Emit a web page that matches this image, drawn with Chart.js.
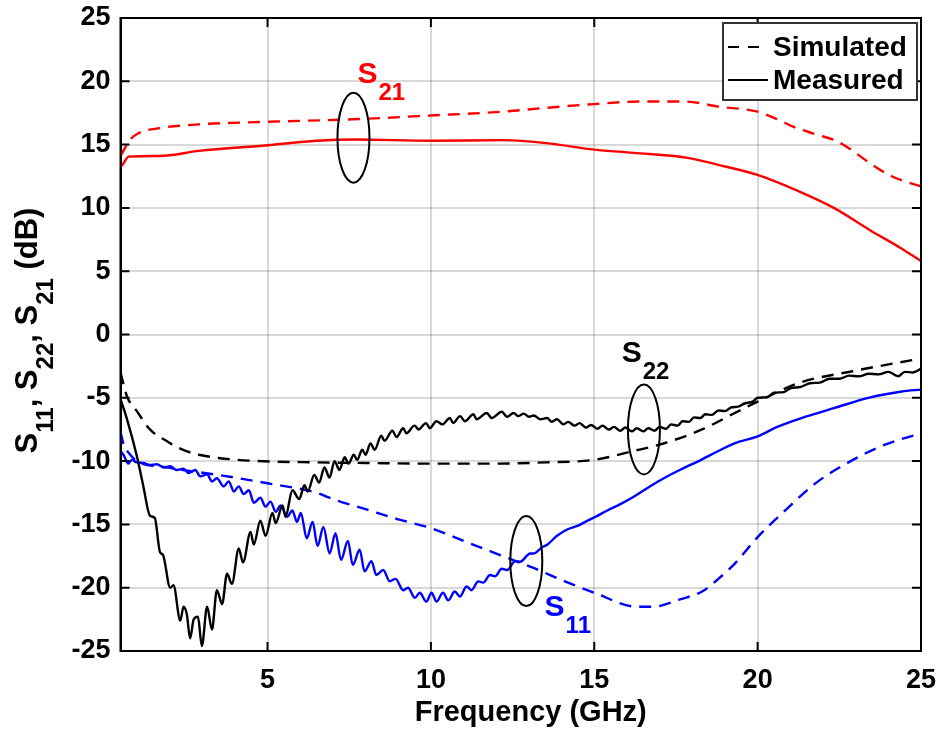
<!DOCTYPE html>
<html>
<head>
<meta charset="utf-8">
<title>S-parameters</title>
<script src="https://cdn.jsdelivr.net/npm/chart.js"></script>
<style>
    body { margin: 0; background-color: #ffffff; }
    canvas { display: block; }
</style>
</head>
<body>
<canvas id="sparChart" width="940" height="736"></canvas>
<script>
// axis ticks
const xTicks = [5, 10, 15, 20, 25];
const yTicks = [-25, -20, -15, -10, -5, 0, 5, 10, 15, 20, 25];

// S21 simulated / measured
const s21SimF  = [0.5, 0.8, 1.05, 1.7, 2.9, 5, 7.6, 10, 12.2, 13.5, 15, 16.4, 17.8, 18.8, 20, 20.6, 21.1, 21.8, 22.4, 22.8, 23.4, 24.1, 25];
const s21SimDb = [14.1, 15.4, 15.9, 16.3, 16.6, 16.8, 17.0, 17.3, 17.6, 17.9, 18.2, 18.4, 18.4, 18.0, 17.6, 17.0, 16.4, 15.8, 15.3, 14.7, 13.6, 12.5, 11.7];
const s21MeasF  = [0.5, 0.6, 0.75, 1.7, 2.9, 5, 6.5, 7.7, 10, 12.2, 13.6, 15, 16.2, 17.85, 18.8, 20, 21.35, 22.4, 23.4, 24.4, 25];
const s21MeasDb = [13.2, 13.55, 14.05, 14.1, 14.5, 14.95, 15.3, 15.4, 15.3, 15.35, 15.1, 14.6, 14.35, 13.95, 13.4, 12.6, 11.2, 9.9, 8.3, 6.8, 5.8];

// S22 simulated / measured
const s22SimF  = [0.5, 0.7, 1.0, 1.4, 1.9, 2.4, 2.9, 3.5, 4.5, 6.5, 8, 10, 12, 13.5, 15, 16.2, 17, 18.3, 19.3, 20, 21.3, 22.9, 25];
const s22SimDb = [-3.0, -4.9, -6.05, -7.5, -8.4, -9.1, -9.5, -9.75, -9.97, -10.1, -10.15, -10.2, -10.2, -10.1, -9.9, -9.2, -8.7, -7.5, -6.2, -5.3, -3.8, -2.9, -1.9];
const s22MeasF = [0.5, 0.7, 1.0, 1.2, 1.4, 1.55, 1.71, 1.8, 2.02, 2.12, 2.33, 2.43, 2.53, 2.63, 2.74, 2.87, 2.99, 3.15, 3.3, 3.45, 3.61, 3.76, 3.91,
    4.12, 4.25, 4.48, 4.58, 4.78, 4.94, 5.15, 5.25, 5.46, 5.55, 5.76, 5.97, 6.13, 6.23, 6.43, 6.58, 6.74, 6.9, 7.05, 7.2, 7.36, 7.48, 7.64, 7.74,
    7.9, 8.0, 8.15, 8.28, 8.48, 8.58, 8.82, 8.95, 9.15, 9.25, 9.5, 9.62, 9.85, 9.97, 10.17, 10.35, 10.58, 10.68, 10.89, 11.04, 11.3, 11.4, 11.71,
    11.86, 12.17, 12.33, 12.53, 12.68, 12.84, 13.0, 13.15, 13.35, 13.56, 13.7, 13.86, 14.05, 14.2, 14.4, 14.55, 14.75, 14.9, 15.1, 15.25, 15.45,
    15.6, 15.8, 15.95, 16.15, 16.3, 16.5, 16.65, 16.85, 17.0, 17.2, 17.35, 17.55, 17.7, 17.9, 18.05, 18.25, 18.4, 18.6, 18.8, 19.0, 19.2, 19.4,
    19.6, 19.85, 20.0, 20.3, 20.5, 20.8, 21.0, 21.3, 21.6, 21.9, 22.2, 22.5, 22.8, 23.1, 23.4, 23.7, 24.0, 24.3, 24.5, 24.75, 25.0];
const s22MeasDb = [-5.1, -6.7, -9.6, -12.0, -14.3, -14.5, -17.2, -17.4, -20.0, -19.8, -22.6, -21.5, -22.1, -24.0, -22.5, -22.3, -24.6, -21.5, -23.3, -20.2, -21.3, -18.9, -19.7,
    -16.9, -18.0, -15.6, -16.6, -14.7, -15.9, -14.1, -14.9, -13.5, -14.4, -12.3, -13.0, -11.9, -12.4, -11.1, -11.7, -10.5, -11.3, -10.0, -10.7, -9.7, -10.2, -9.5, -9.9,
    -9.1, -9.5, -8.6, -9.1, -8.0, -8.4, -7.6, -8.1, -7.4, -7.8, -7.2, -7.5, -7.0, -7.4, -6.85, -7.1, -6.6, -7.0, -6.45, -6.85, -6.3, -6.7, -6.2,
    -6.6, -6.1, -6.5, -6.2, -6.45, -6.25, -6.5, -6.4, -6.7, -6.6, -6.9, -6.7, -7.1, -6.9, -7.2, -7.0, -7.35, -7.15, -7.45, -7.2, -7.5,
    -7.3, -7.6, -7.35, -7.65, -7.4, -7.65, -7.4, -7.6, -7.3, -7.45, -7.1, -7.2, -6.85, -6.9, -6.55, -6.6, -6.3, -6.35, -6.0, -6.05, -5.75, -5.7,
    -5.45, -5.3, -5.0, -4.95, -4.6, -4.55, -4.25, -4.15, -3.85, -3.8, -3.5, -3.5, -3.25, -3.3, -3.1, -3.15, -2.95, -3.3, -2.95, -3.0, -2.7];

// S11 simulated / measured
const s11SimF  = [0.5, 0.6, 0.8, 1.0, 1.9, 3.5, 5, 6.5, 7, 8, 9, 10, 11.1, 12.2, 12.5, 13.2, 14.1, 15, 16.3, 16.8, 17.65, 18.3, 18.8, 19.3, 20, 20.8, 21.8, 22.85, 23.9, 25];
const s11SimDb = [-7.7, -8.7, -9.5, -10.0, -10.5, -11.1, -11.75, -12.5, -13.0, -13.8, -14.6, -15.3, -16.4, -17.5, -17.8, -18.5, -19.5, -20.4, -21.5, -21.5, -20.9, -20.3, -19.3, -18.1, -16.0, -14.0, -11.7, -10.0, -8.7, -7.8];
const s11MeasF = [0.5, 0.59, 0.74, 0.84, 1.0, 1.2, 1.4, 1.61, 1.82, 2.02, 2.22, 2.43, 2.58, 2.79, 2.94, 3.15, 3.3, 3.45, 3.66, 3.81, 3.97,
    4.12, 4.27, 4.43, 4.58, 4.78, 4.94, 5.09, 5.25, 5.4, 5.6, 5.76, 5.9, 6.02, 6.2, 6.38, 6.53, 6.71, 6.9, 7.08, 7.25, 7.46, 7.61, 7.82, 7.97,
    8.18, 8.33, 8.54, 8.74, 8.92, 9.15, 9.3, 9.51, 9.66, 9.86, 10.02, 10.17, 10.37, 10.53, 10.73, 10.89, 11.09, 11.24, 11.45, 11.6, 11.81, 11.96,
    12.17, 12.33, 12.58, 12.73, 13.04, 13.15, 13.4, 13.56, 13.86, 14.17, 14.5, 14.8, 15.04, 15.4, 15.8, 16.22, 16.7, 17.24, 17.7, 18.27, 18.8,
    19.29, 20.0, 20.6, 21.34, 22.36, 23.39, 24.41, 25.0];
const s11MeasDb = [-9.2, -9.5, -10.2, -9.9, -10.1, -10.15, -10.3, -10.25, -10.5, -10.4, -10.7, -10.6, -10.95, -10.7, -11.2, -11.05, -11.6, -11.35, -12.0, -11.6, -12.4,
    -12.0, -12.6, -12.3, -13.3, -12.9, -13.6, -13.2, -14.0, -13.5, -14.4, -13.9, -14.8, -14.1, -16.1, -14.8, -16.7, -15.2, -17.3, -15.7, -17.8, -16.3, -18.2, -17.0, -18.7,
    -17.9, -19.0, -18.6, -19.5, -19.3, -20.2, -20.0, -20.8, -20.4, -21.1, -20.4, -21.1, -20.4, -21.0, -20.3, -20.7, -19.9, -20.2, -19.5, -19.6, -19.0, -19.1,
    -18.5, -18.6, -17.9, -17.95, -17.3, -17.3, -16.8, -16.6, -15.9, -15.4, -15.1, -14.7, -14.4, -13.9, -13.4, -12.8, -12.0, -11.2, -10.6, -9.9, -9.2,
    -8.6, -8.05, -7.3, -6.6, -5.8, -5.0, -4.5, -4.35];

function pts(f, db) {
    return f.map((x, i) => ({ x: x, y: db[i] }));
}

const FONT = "'Liberation Sans', Arial, sans-serif";
const RED = '#ff0000', BLUE = '#0000ff', BLACK = '#000000';
const DASH = [12, 8];

function line(label, f, db, color, dashed) {
    return {
        label: label,
        data: pts(f, db),
        borderColor: color,
        borderWidth: 2.4,
        borderDash: dashed ? DASH : [],
        pointRadius: 0,
        fill: false,
        cubicInterpolationMode: 'monotone'
    };
}

// rings and S-labels, in data coordinates
const rings = [
    { x: 7.63, y: 15.55 },
    { x: 16.52, y: -7.5 },
    { x: 12.92, y: -17.9 }
];
const sLabels = [
    { x: 7.75, y: 19.9, sub: '21', color: RED },
    { x: 15.84, y: -2.16, sub: '22', color: BLACK },
    { x: 13.48, y: -22.2, sub: '11', color: BLUE }
];

// draws box, inner ticks, rings, labels, legend and axis titles
const decorations = {
    id: 'decorations',
    afterDraw(chart) {
        const ctx = chart.ctx;
        const a = chart.chartArea;
        const xs = chart.scales.x, ys = chart.scales.y;
        ctx.save();

        // box + inner ticks
        ctx.strokeStyle = BLACK;
        ctx.lineWidth = 2;
        ctx.strokeRect(a.left, a.top, a.right - a.left, a.bottom - a.top);
        ctx.beginPath();
        xTicks.forEach(v => {
            const px = xs.getPixelForValue(v);
            ctx.moveTo(px, a.bottom); ctx.lineTo(px, a.bottom - 9);
            ctx.moveTo(px, a.top); ctx.lineTo(px, a.top + 9);
        });
        yTicks.forEach(v => {
            const py = ys.getPixelForValue(v);
            ctx.moveTo(a.left, py); ctx.lineTo(a.left + 9, py);
            ctx.moveTo(a.right, py); ctx.lineTo(a.right - 9, py);
        });
        ctx.stroke();

        // rings
        ctx.lineWidth = 2;
        rings.forEach(r => {
            ctx.beginPath();
            ctx.ellipse(xs.getPixelForValue(r.x), ys.getPixelForValue(r.y), 16, 45, 0, 0, Math.PI * 2);
            ctx.stroke();
        });

        // S labels with subscripts
        ctx.textBaseline = 'alphabetic';
        ctx.textAlign = 'left';
        sLabels.forEach(l => {
            const px = xs.getPixelForValue(l.x), py = ys.getPixelForValue(l.y);
            ctx.fillStyle = l.color;
            ctx.font = 'bold 30px ' + FONT;
            ctx.fillText('S', px, py);
            const w = ctx.measureText('S').width;
            ctx.font = 'bold 24px ' + FONT;
            ctx.fillText(l.sub, px + w + 1, py + 17);
        });

        // legend
        const lx = a.right - 198, ly = a.top + 5, lw = 194, lh = 77;
        ctx.fillStyle = '#ffffff';
        ctx.fillRect(lx, ly, lw, lh);
        ctx.strokeStyle = '#333333';
        ctx.lineWidth = 2;
        ctx.strokeRect(lx, ly, lw, lh);
        ctx.strokeStyle = BLACK;
        ctx.lineWidth = 2;
        ctx.setLineDash([11, 9]);
        ctx.beginPath(); ctx.moveTo(lx + 5, ly + 24); ctx.lineTo(lx + 45, ly + 24); ctx.stroke();
        ctx.setLineDash([]);
        ctx.beginPath(); ctx.moveTo(lx + 5, ly + 57); ctx.lineTo(lx + 45, ly + 57); ctx.stroke();
        ctx.fillStyle = BLACK;
        ctx.font = 'bold 28px ' + FONT;
        ctx.textBaseline = 'middle';
        ctx.fillText('Simulated', lx + 50, ly + 25);
        ctx.fillText('Measured', lx + 50, ly + 58);

        // x title
        ctx.textAlign = 'center';
        ctx.textBaseline = 'alphabetic';
        ctx.font = 'bold 29px ' + FONT;
        ctx.fillText('Frequency (GHz)', (a.left + a.right) / 2 + 10, 721);

        // y title with subscripts, rotated
        const parts = [['S', 0], ['11', 1], [', ', 0], ['S', 0], ['22', 1], [', ', 0], ['S', 0], ['21', 1], [' (dB)', 0]];
        const mainFont = 'bold 31px ' + FONT, subFont = 'bold 24px ' + FONT;
        let total = 0;
        parts.forEach(p => { ctx.font = p[1] ? subFont : mainFont; total += ctx.measureText(p[0]).width; });
        ctx.translate(37, (a.top + a.bottom) / 2 - 4);
        ctx.rotate(-Math.PI / 2);
        ctx.textAlign = 'left';
        let cx = -total / 2;
        parts.forEach(p => {
            ctx.font = p[1] ? subFont : mainFont;
            ctx.fillText(p[0], cx, p[1] ? 16 : 0);
            cx += ctx.measureText(p[0]).width;
        });
        ctx.restore();
    }
};

const ctx = document.getElementById('sparChart').getContext('2d');
new Chart(ctx, {
    type: 'line',
    data: {
        datasets: [
            line('S21 simulated', s21SimF, s21SimDb, RED, true),
            line('S21 measured', s21MeasF, s21MeasDb, RED, false),
            line('S22 simulated', s22SimF, s22SimDb, BLACK, true),
            line('S22 measured', s22MeasF, s22MeasDb, BLACK, false),
            line('S11 simulated', s11SimF, s11SimDb, BLUE, true),
            line('S11 measured', s11MeasF, s11MeasDb, BLUE, false)
        ]
    },
    options: {
        responsive: false,
        animation: false,
        devicePixelRatio: 1,
        layout: { padding: { left: 0, top: 18, right: 19, bottom: 0 } },
        plugins: { legend: { display: false }, tooltip: { enabled: false } },
        scales: {
            x: {
                type: 'linear',
                min: 0.5,
                max: 25,
                afterBuildTicks: s => { s.ticks = xTicks.map(v => ({ value: v })); },
                afterFit: s => { s.height = 85; s.paddingLeft = 0; s.paddingRight = 0; },
                grid: { color: 'rgba(0,0,0,0.15)', lineWidth: 2, drawTicks: false },
                border: { display: true, color: BLACK, width: 2 },
                ticks: { color: BLACK, padding: 13, font: { family: FONT, size: 27, weight: 'bold' } }
            },
            y: {
                min: -25,
                max: 25,
                afterBuildTicks: s => { s.ticks = yTicks.map(v => ({ value: v })); },
                afterFit: s => { s.width = 120.5; s.paddingTop = 0; s.paddingBottom = 0; },
                grid: { color: 'rgba(0,0,0,0.15)', lineWidth: 2, drawTicks: false },
                border: { display: true, color: BLACK, width: 2 },
                ticks: { color: BLACK, padding: 10, font: { family: FONT, size: 27, weight: 'bold' } }
            }
        }
    },
    plugins: [decorations]
});
</script>
</body>
</html>
